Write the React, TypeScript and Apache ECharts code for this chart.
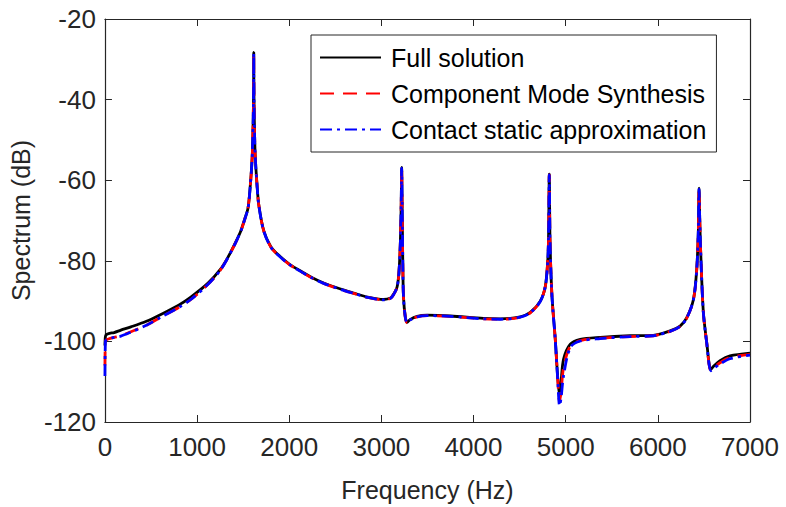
import React, { useEffect, useRef } from "react";
import * as echarts from "echarts";

const seriesNames = ["Full solution", "Component Mode Synthesis", "Contact static approximation"];
const xTicks = [0, 1000, 2000, 3000, 4000, 5000, 6000, 7000];
const yTicks = [-120, -100, -80, -60, -40, -20];

const freq = [
  0, 5, 15, 50, 100, 173, 282, 450, 607, 800, 932, 1116, 1250, 1333, 1420, 1474, 1520, 1550, 1565, 1580, 1590, 1600,
  1610, 1614, 1615, 1616, 1620, 1630, 1650, 1669, 1723, 1800, 1875, 2000, 2091, 2250, 2373, 2557, 2700, 2850,
  3023, 3100, 3132, 3170, 3190, 3205, 3215, 3220, 3225, 3232, 3240, 3260, 3280, 3310, 3388, 3497, 3750, 4107,
  4290, 4508, 4616, 4724, 4779, 4805, 4814, 4822, 4830, 4851, 4887, 4912, 4934, 4950, 4977, 5050, 5158, 5375,
  5700, 5950, 6133, 6241, 6314, 6386, 6422, 6440, 6447, 6455, 6469, 6494, 6530, 6574, 6600, 6675, 6783, 7000,
];

const fullDb = [
  -101, -98.8, -98.3, -98.0, -97.8, -97.2, -96.4, -95.0, -93.3, -91.0, -89.0, -85.6, -82.2, -79.2, -75.3, -72.6, -69.4, -67.2, -64.6, -60.5, -57.4, -53.1,
  -43.6, -35, -28.3, -35, -43.8, -53.5, -61, -66, -72.5, -76.5, -78.4, -80.8, -82.1, -84.2, -85.5, -87.0, -88.0, -89.0,
  -89.6, -89.2, -88.3, -86.5, -83, -76, -66, -56.8, -66, -80, -89, -94, -95.3, -94.6, -93.8, -93.5, -93.7, -94.3,
  -94.4, -93.9, -92.8, -90, -86.3, -80, -74, -58.5, -75, -88.7, -99.5, -108.5, -113.5, -110, -104.4, -100.7, -99.5, -99,
  -98.6, -98.5, -97.4, -96.2, -94.1, -89.6, -82.1, -72, -62, -70, -80.4, -92.8, -100.2, -107, -106.3, -104.8, -103.6, -102.9,
];

const cmsDb = [
  -106, -100, -99.6, -99.3, -99.0, -98.6, -97.6, -96.0, -94.0, -91.6, -89.6, -85.9, -82.4, -79.3, -75.4, -72.7, -69.5, -67.3, -64.7, -60.6, -57.5, -53.2,
  -43.7, -35, -28.5, -35, -43.9, -53.6, -61.1, -66.1, -72.6, -76.6, -78.5, -80.9, -82.2, -84.3, -85.6, -87.1, -88.1, -89.1,
  -89.7, -89.3, -88.4, -86.6, -83.1, -76.1, -66.1, -57, -66.1, -80.1, -89.1, -94.1, -95.4, -94.7, -93.9, -93.6, -93.8, -94.4,
  -94.5, -94.0, -92.9, -90.1, -86.4, -80.1, -74.1, -58.7, -75.1, -88.8, -99.6, -108.8, -115, -112.5, -106.5, -101.2, -99.8, -99.2,
  -98.8, -98.6, -97.5, -96.3, -94.2, -89.7, -82.2, -72.1, -62.2, -70.1, -80.5, -92.9, -100.3, -107.2, -106.6, -105.3, -104.0, -103.2,
];

const csaDb = [
  -108.6, -100, -99.6, -99.3, -99.0, -98.7, -97.7, -96.0, -94.0, -91.6, -89.6, -85.9, -82.4, -79.3, -75.4, -72.7, -69.5, -67.3, -64.7, -60.6, -57.5, -53.2,
  -43.7, -35, -28.5, -35, -43.9, -53.6, -61.1, -66.1, -72.6, -76.6, -78.5, -80.9, -82.2, -84.3, -85.6, -87.1, -88.1, -89.1,
  -89.7, -89.3, -88.4, -86.6, -83.1, -76.1, -66.1, -57, -66.1, -80.1, -89.1, -94.1, -95.4, -94.7, -93.9, -93.6, -93.8, -94.4,
  -94.5, -94.0, -92.9, -90.1, -86.4, -80.1, -74.1, -58.7, -75.1, -88.8, -99.6, -109, -116, -114, -108.5, -101.5, -99.9, -99.3,
  -98.8, -98.6, -97.5, -96.3, -94.2, -89.7, -82.2, -72.1, -62.2, -70.1, -80.5, -92.9, -100.3, -107.3, -106.8, -105.6, -104.3, -103.4,
];

const FONT = "'Liberation Sans', Arial, Helvetica, sans-serif";
const AX = "#262626";

export default function App() {
  const ref = useRef<HTMLDivElement>(null);
  useEffect(() => {
    if (!ref.current) return;
    const chart = echarts.init(ref.current, undefined, { renderer: "svg" });
    const pair = (vals: number[]) => freq.map((f, i) => [f, vals[i]]);
    const axisCommon = {
      axisLine: { show: true, onZero: false, lineStyle: { color: AX, width: 1.2 } },
      axisTick: { show: true, inside: true, length: 7, lineStyle: { color: AX, width: 1 } },
      splitLine: { show: false },
    };
    chart.setOption({
      animation: false,
      backgroundColor: "#ffffff",
      grid: { left: 104, right: 36, top: 19, bottom: 84, containLabel: false },
      legend: {
        data: seriesNames,
        orient: "vertical",
        left: 311,
        top: 35,
        itemWidth: 61,
        itemHeight: 14,
        itemGap: 11,
        padding: [10, 10, 10, 8],
        backgroundColor: "#ffffff",
        borderColor: AX,
        borderWidth: 1,
        borderRadius: 0,
        itemStyle: { opacity: 0, borderWidth: 0 },
        textStyle: { fontFamily: FONT, fontSize: 25, color: "#000", lineHeight: 25, padding: [0, 0, 0, 5] },
      },
      xAxis: [
        {
          type: "value",
          min: xTicks[0],
          max: xTicks[xTicks.length - 1],
          interval: 1000,
          name: "Frequency (Hz)",
          nameLocation: "middle",
          nameGap: 55,
          nameTextStyle: { fontFamily: FONT, fontSize: 25, color: AX },
          axisLabel: { fontFamily: FONT, fontSize: 26, color: AX, margin: 12, formatter: (v: number) => String(v) },
          ...axisCommon,
        },
        {
          type: "value",
          position: "top",
          min: xTicks[0],
          max: xTicks[xTicks.length - 1],
          interval: 1000,
          axisLabel: { show: false },
          ...axisCommon,
        },
      ],
      yAxis: [
        {
          type: "value",
          min: yTicks[0],
          max: yTicks[yTicks.length - 1],
          interval: 20,
          name: "Spectrum (dB)",
          nameLocation: "middle",
          nameGap: 70,
          nameRotate: 90,
          nameTextStyle: { fontFamily: FONT, fontSize: 25, color: AX },
          axisLabel: { fontFamily: FONT, fontSize: 26, color: AX, margin: 9, formatter: (v: number) => String(v) },
          ...axisCommon,
        },
        {
          type: "value",
          position: "right",
          min: yTicks[0],
          max: yTicks[yTicks.length - 1],
          interval: 20,
          axisLabel: { show: false },
          ...axisCommon,
        },
      ],
      series: [
        {
          name: seriesNames[0],
          type: "line",
          data: pair(fullDb),
          showSymbol: false,
          symbol: "none",
          smooth: 0.3,
          lineStyle: { color: "#000000", width: 2.8, type: "solid" },
          itemStyle: { color: "#000000" },
          z: 2,
        },
        {
          name: seriesNames[1],
          type: "line",
          data: pair(cmsDb),
          showSymbol: false,
          symbol: "none",
          smooth: 0.3,
          lineStyle: { color: "#ff0000", width: 2.8, type: [14, 9] },
          itemStyle: { color: "#ff0000" },
          z: 3,
        },
        {
          name: seriesNames[2],
          type: "line",
          data: pair(csaDb),
          showSymbol: false,
          symbol: "none",
          smooth: 0.3,
          lineStyle: { color: "#0000ff", width: 2.8, type: [12, 5, 3, 5] },
          itemStyle: { color: "#0000ff" },
          z: 4,
        },
      ],
    });
    return () => chart.dispose();
  }, []);
  return <div ref={ref} style={{ width: 786, height: 507, position: "absolute", left: 0, top: 0 }} />;
}
